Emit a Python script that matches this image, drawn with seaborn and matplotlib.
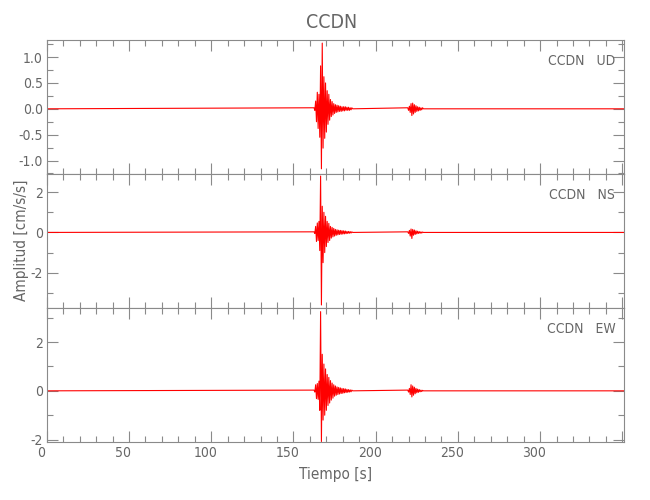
import numpy as np
import matplotlib
matplotlib.use("Agg")
import matplotlib.pyplot as plt
import matplotlib.transforms as mtransforms
from matplotlib.ticker import MultipleLocator, FormatStrFormatter, FuncFormatter
import seaborn as sns

# Traza sísmica (picos), estación CCDN
estacion = "CCDN"
componentes = ["UD", "NS", "EW"]
t_fin = 351.0

# tiempos de los picos en la llegada principal
t_main = [162.5, 163.0, 163.5, 164.0, 164.5, 165.0, 165.5, 166.0, 166.5, 167.0,
          167.5, 168.0, 168.5, 169.0, 169.5, 170.0, 170.5, 171.0, 171.5, 172.0,
          172.5, 173.0, 173.5, 174.0, 174.5, 175.0, 175.5, 176.0, 176.5, 177.0,
          177.5, 178.0, 178.5, 179.0, 179.5, 180.0, 180.5, 181.0, 181.5, 182.0,
          182.5, 183.0, 183.5, 184.0, 184.5, 185.0, 185.5, 186.0]
# tiempos de los picos en la segunda llegada
t_sec = [219.5, 220.0, 220.5, 221.0, 221.5, 222.0, 222.5, 223.0, 223.5, 224.0,
         224.5, 225.0, 225.5, 226.0, 226.5, 227.0, 227.5, 228.0, 228.5, 229.0]

ud_main = [0.02, -0.03, 0.15, -0.25, 0.32, -0.38, 0.28, -0.55, 0.83, -1.16,
           1.27, -0.76, 0.62, -0.57, 0.50, -0.45, 0.35, -0.30, 0.28, -0.22,
           0.18, -0.15, 0.14, -0.12, 0.10, -0.09, 0.08, -0.07, 0.07, -0.06,
           0.06, -0.05, 0.05, -0.05, 0.04, -0.04, 0.04, -0.04, 0.04, -0.03,
           0.03, -0.03, 0.03, -0.03, 0.02, -0.02, 0.02, 0.0]
ns_main = [0.03, -0.05, 0.30, -0.45, 0.47, -0.40, 0.55, -0.90, 2.80, -3.60,
           1.30, -1.50, 1.00, -1.00, 0.80, -0.70, 0.55, -0.50, 0.45, -0.40,
           0.30, -0.28, 0.25, -0.22, 0.20, -0.18, 0.15, -0.14, 0.13, -0.12,
           0.11, -0.10, 0.10, -0.09, 0.09, -0.08, 0.08, -0.07, 0.07, -0.06,
           0.05, -0.05, 0.05, -0.04, 0.04, -0.03, 0.03, 0.0]
ew_main = [0.03, -0.05, 0.25, -0.32, 0.30, -0.35, 0.40, -0.80, 3.25, -2.08,
           1.50, -1.20, 1.10, -1.00, 0.90, -0.80, 0.67, -0.60, 0.55, -0.50,
           0.42, -0.38, 0.32, -0.30, 0.25, -0.22, 0.20, -0.18, 0.16, -0.15,
           0.14, -0.13, 0.12, -0.11, 0.10, -0.10, 0.09, -0.08, 0.08, -0.07,
           0.06, -0.06, 0.05, -0.05, 0.04, -0.04, 0.03, 0.0]

ud_sec = [0.02, -0.03, 0.05, -0.07, 0.10, -0.13, 0.11, -0.10, 0.08, -0.07,
          0.06, -0.05, 0.04, -0.04, 0.03, -0.03, 0.02, -0.02, 0.02, 0.0]
ns_sec = [0.03, -0.05, 0.10, -0.18, 0.17, -0.30, 0.15, -0.14, 0.12, -0.10,
          0.08, -0.07, 0.06, -0.05, 0.04, -0.04, 0.03, -0.03, 0.02, 0.0]
ew_sec = [0.03, -0.05, 0.10, -0.15, 0.25, -0.25, 0.20, -0.18, 0.15, -0.12,
          0.10, -0.08, 0.07, -0.06, 0.05, -0.04, 0.03, -0.03, 0.02, 0.0]

ylims = [(-1.26, 1.33), (-3.75, 2.9), (-2.1, 3.4)]
y_major = [0.5, 2, 2]
y_minor = [0.25, 1, 1]
y_fmt = ["%.1f", "%d", "%d"]

sns.set_style("ticks")
plt.rcParams["font.family"] = ["DejaVu Sans"]
plt.rcParams["font.stretch"] = "condensed"
plt.rcParams["font.weight"] = "light"
plt.rcParams["axes.unicode_minus"] = False
gris = "#8a8a8a"
texto = "#666666"

fig, axes = plt.subplots(3, 1, figsize=(6.5, 5), dpi=100, sharex=True)
fig.subplots_adjust(left=0.072, right=0.96, top=0.92, bottom=0.116, hspace=0)

trazas = [(ud_main, ud_sec), (ns_main, ns_sec), (ew_main, ew_sec)]
for i, ax in enumerate(axes):
    main, sec = trazas[i]
    t = [0.0] + t_main + t_sec + [t_fin]
    a = [0.0] + main + sec + [0.0]
    sns.lineplot(x=t, y=a, ax=ax, color="#ff0000", lw=0.8, estimator=None)
    ax.set_xlim(0, t_fin)
    ax.set_ylim(*ylims[i])
    ax.xaxis.set_major_locator(MultipleLocator(50))
    ax.xaxis.set_minor_locator(MultipleLocator(10))
    ax.xaxis.set_major_formatter(FuncFormatter(lambda v, p: "" if v >= 350 else f"{v:.0f}"))
    ax.yaxis.set_major_locator(MultipleLocator(y_major[i]))
    ax.yaxis.set_minor_locator(MultipleLocator(y_minor[i]))
    ax.yaxis.set_major_formatter(FormatStrFormatter(y_fmt[i]))
    ax.tick_params(which="both", direction="in", top=True, right=True,
                   color=gris, labelcolor=texto, labelsize=10, width=0.8, pad=3)
    ax.tick_params(which="major", length=8)
    ax.tick_params(which="minor", length=4)
    for s in ax.spines.values():
        s.set_color(gris)
        s.set_linewidth(0.8)
    ax.set_ylabel("")
    ax.text(0.985, 0.84, f"{estacion}   {componentes[i]}", transform=ax.transAxes,
            ha="right", va="center", color=texto, fontsize=10)

# etiquetas de tiempo algo desplazadas a la izquierda, como en el original
off = mtransforms.ScaledTranslation(-6 / 100, 0, fig.dpi_scale_trans)
for lab in axes[-1].get_xticklabels():
    lab.set_transform(lab.get_transform() + off)

axes[-1].set_xlabel("Tiempo [s]", color=texto, fontsize=11, labelpad=5)
fig.text(0.033, 0.52, "Amplitud [cm/s/s]", rotation=90, ha="center", va="center",
         color=texto, fontsize=11)
fig.suptitle(estacion, x=0.51, y=0.975, color=texto, fontsize=14)

fig.savefig("out.png", dpi=100)
